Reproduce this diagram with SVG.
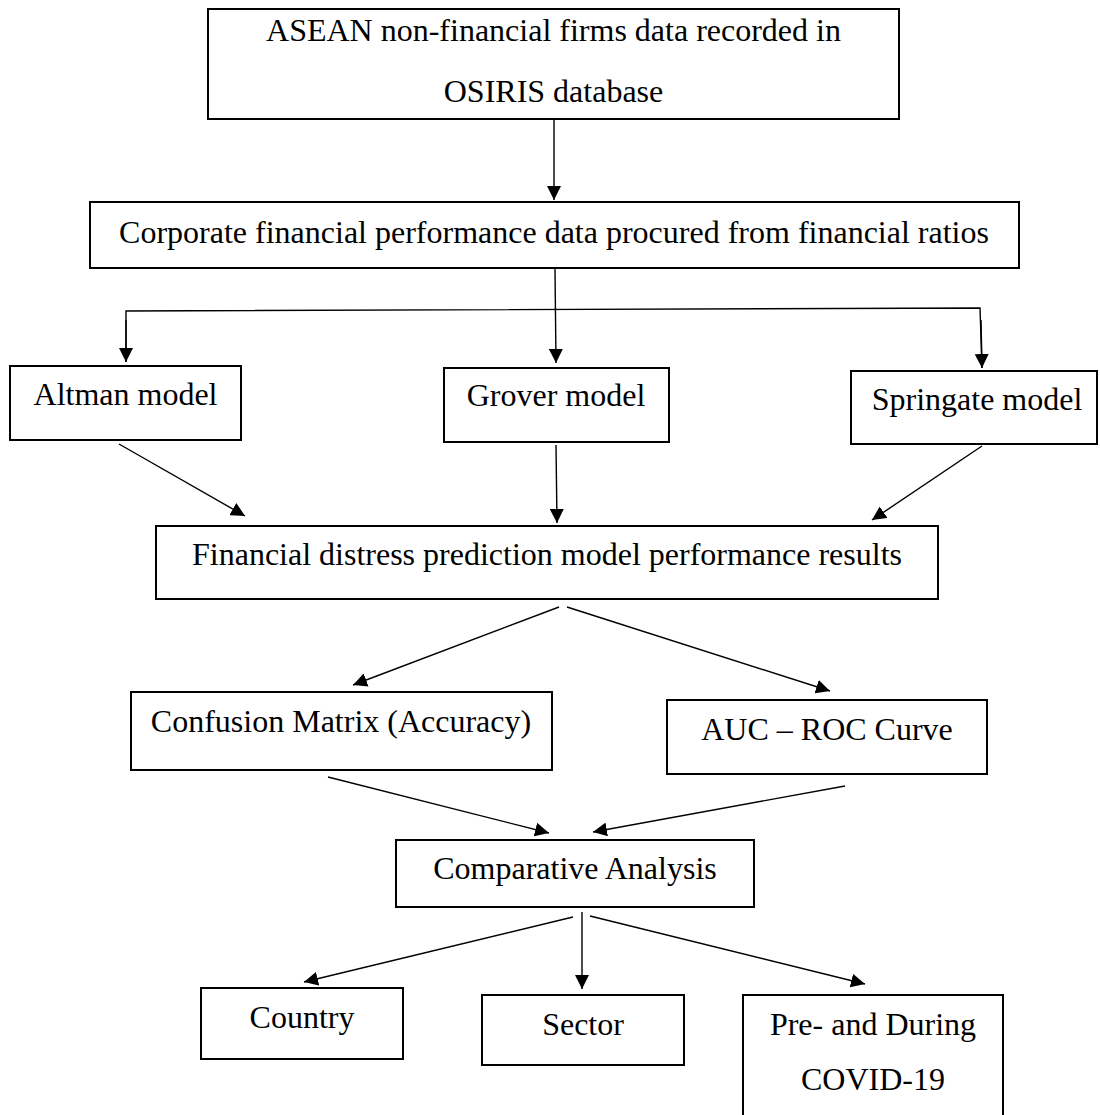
<svg xmlns="http://www.w3.org/2000/svg" width="1100" height="1115" viewBox="0 0 1100 1115">
<style>
.box{fill:#fff;stroke:#000;stroke-width:2}
.t{font-family:"Liberation Serif","Times New Roman",serif;font-size:32px;fill:#000;text-anchor:middle}
.c{fill:none;stroke:#000;stroke-width:1.4}
</style>
<defs>
<marker id="ah" markerUnits="userSpaceOnUse" viewBox="0 0 14 14" refX="14" refY="7" markerWidth="14" markerHeight="14" orient="auto">
<path d="M0,0 L14,7 L0,14 z" fill="#000"/>
</marker>
</defs>
<rect width="1100" height="1115" fill="#fff"/>
<g id="connectors">
<line class="c" x1="554" y1="120" x2="554" y2="200" marker-end="url(#ah)"/>
<line class="c" x1="555" y1="269" x2="556" y2="363" marker-end="url(#ah)"/>
<polyline class="c" points="126,362 126,311 980,308 982,368"/>
<line class="c" x1="126" y1="320" x2="126" y2="362" marker-end="url(#ah)"/>
<line class="c" x1="981" y1="320" x2="982" y2="368" marker-end="url(#ah)"/>
<line class="c" x1="119" y1="444" x2="245" y2="516" marker-end="url(#ah)"/>
<line class="c" x1="556" y1="445" x2="557" y2="523" marker-end="url(#ah)"/>
<line class="c" x1="982" y1="446" x2="872" y2="520" marker-end="url(#ah)"/>
<line class="c" x1="559" y1="607" x2="353" y2="685" marker-end="url(#ah)"/>
<line class="c" x1="567" y1="607" x2="830" y2="691" marker-end="url(#ah)"/>
<line class="c" x1="328" y1="777" x2="549" y2="833" marker-end="url(#ah)"/>
<line class="c" x1="845" y1="786" x2="593" y2="832" marker-end="url(#ah)"/>
<line class="c" x1="573" y1="917" x2="304" y2="982" marker-end="url(#ah)"/>
<line class="c" x1="582" y1="912" x2="582" y2="989" marker-end="url(#ah)"/>
<line class="c" x1="590" y1="916" x2="865" y2="984" marker-end="url(#ah)"/>
</g>
<g id="n1"><rect class="box" x="208" y="9" width="691" height="110"/>
<text class="t" x="553.5" y="41">ASEAN non-financial firms data recorded in</text>
<text class="t" x="553.5" y="102">OSIRIS database</text></g>
<g id="n2"><rect class="box" x="90" y="202" width="929" height="66"/>
<text class="t" x="554" y="243">Corporate financial performance data procured from financial ratios</text></g>
<g id="n3"><rect class="box" x="10" y="366" width="231" height="74"/>
<text class="t" x="125.5" y="405">Altman model</text></g>
<g id="n4"><rect class="box" x="444" y="368" width="225" height="74"/>
<text class="t" x="556" y="406">Grover model</text></g>
<g id="n5"><rect class="box" x="851" y="371" width="246" height="73"/>
<text class="t" x="977" y="410">Springate model</text></g>
<g id="n6"><rect class="box" x="156" y="526" width="782" height="73"/>
<text class="t" x="547" y="565">Financial distress prediction model performance results</text></g>
<g id="n7"><rect class="box" x="131" y="692" width="421" height="78"/>
<text class="t" x="341" y="732">Confusion Matrix (Accuracy)</text></g>
<g id="n8"><rect class="box" x="667" y="700" width="320" height="74"/>
<text class="t" x="827" y="740">AUC – ROC Curve</text></g>
<g id="n9"><rect class="box" x="396" y="840" width="358" height="67"/>
<text class="t" x="575" y="879">Comparative Analysis</text></g>
<g id="n10"><rect class="box" x="201" y="988" width="202" height="71"/>
<text class="t" x="302" y="1028">Country</text></g>
<g id="n11"><rect class="box" x="482" y="995" width="202" height="70"/>
<text class="t" x="583" y="1035">Sector</text></g>
<g id="n12"><rect class="box" x="743" y="995" width="260" height="125"/>
<text class="t" x="873" y="1035">Pre- and During</text>
<text class="t" x="873" y="1090">COVID-19</text></g>
</svg>
